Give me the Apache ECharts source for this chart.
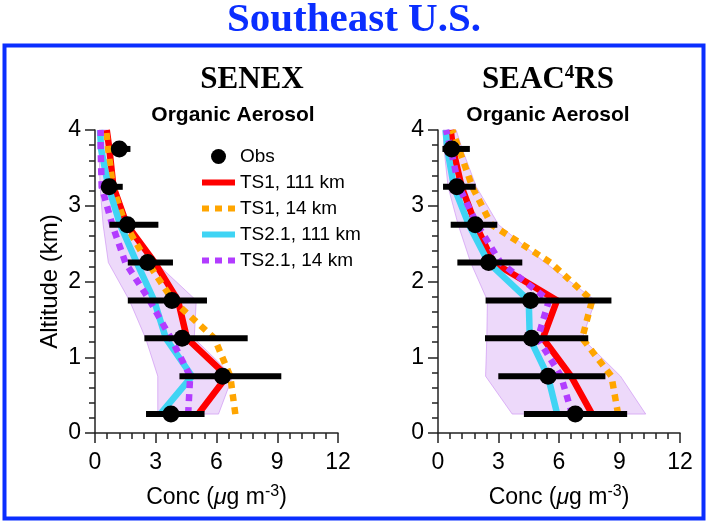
<!DOCTYPE html>
<html><head><meta charset="utf-8">
<script src="https://cdn.jsdelivr.net/npm/echarts@6/dist/echarts.min.js"></script>
<style>html,body{margin:0;padding:0;background:#fff}#c{width:709px;height:523px}</style>
</head><body><div id="c"></div>
<script>
// Altitude levels (km)
const obsLevels = [0.25, 0.75, 1.25, 1.75, 2.25, 2.75, 3.25, 3.75];
const lineLevels = [0.25, 0.75, 1.25, 1.75, 2.25, 2.75, 3.25, 3.75, 4.0];
const xTicks = [0, 3, 6, 9, 12];
const yTicks = [0, 1, 2, 3, 4];
const seriesNames = ['Obs', 'TS1, 111 km', 'TS1, 14 km', 'TS2.1, 111 km', 'TS2.1, 14 km'];

// SENEX
const senexObs   = [3.75, 6.3, 4.3, 3.8, 2.6, 1.6, 0.7, 1.2];
const senexObsLo = [2.52, 4.17, 2.44, 1.62, 1.62, 0.71, 0.5, 0.85];
const senexObsHi = [5.41, 9.2, 7.54, 5.53, 3.85, 3.13, 1.37, 1.75];
const senexTS1_111 = [5.1, 6.52, 4.54, 4.1, 2.95, 1.57, 0.91, 0.71, 0.58];
const senexTS1_14  = [6.93, 6.68, 5.9, 3.85, 2.6, 1.5, 0.88, 0.65, 0.55];
const senexTS2_111 = [3.22, 4.79, 3.5, 2.92, 2.06, 1.24, 0.66, 0.3, 0.25];
const senexTS2_14  = [4.6, 4.7, 3.75, 2.7, 1.5, 0.85, 0.33, 0.28, 0.28];
const senexRangeLo = [3.1, 3.1, 2.5, 1.7, 0.66, 0.4, 0.25, 0.2, 0.2];
const senexRangeHi = [6.1, 6.8, 4.9, 5.0, 3.0, 1.6, 0.95, 0.7, 0.6];

// SEAC4RS
const seacObs   = [6.81, 5.46, 4.64, 4.59, 2.51, 1.85, 0.93, 0.68];
const seacObsLo = [4.26, 2.99, 2.33, 2.36, 0.96, 0.63, 0.25, 0.22];
const seacObsHi = [9.38, 8.3, 7.45, 8.6, 4.18, 2.94, 1.87, 1.58];
const seacTS1_111 = [7.64, 6.6, 5.2, 5.9, 2.75, 1.87, 1.17, 0.74, 0.63];
const seacTS1_14  = [8.93, 8.6, 7.15, 7.64, 5.58, 2.65, 1.7, 1.04, 0.71];
const seacTS2_111 = [5.91, 5.45, 4.55, 4.5, 2.5, 1.53, 0.79, 0.46, 0.38];
const seacTS2_14  = [6.65, 6.1, 4.95, 5.5, 3.1, 1.95, 1.04, 0.63, 0.4];
const seacRangeLo = [3.68, 2.36, 2.42, 2.45, 1.62, 1.0, 0.5, 0.3, 0.25];
const seacRangeHi = [10.3, 9.05, 7.15, 7.8, 5.3, 3.0, 1.9, 1.2, 0.9];

const SANS = '"Liberation Sans", Arial, Helvetica, sans-serif';
const SERIF = '"Liberation Serif", "Times New Roman", serif';
const BLUE = '#0a2eff';
const colors = { red: '#ff0000', orange: '#ffa500', cyan: '#3fd4f4', purple: '#b23cff' };

const chart = echarts.init(document.getElementById('c'), null, { renderer: 'canvas' });

function pairs(vals, alts) { return vals.map((v, i) => [v, alts[i]]); }

function panelSeries(g, d) {
  const out = [];
  // model range band
  out.push({
    type: 'custom', xAxisIndex: g, yAxisIndex: g, z: 1, silent: true,
    data: d.lo.map((v, i) => [v, d.hi[i], lineLevels[i]]),
    encode: { x: [0, 1], y: 2 },
    renderItem: function (params, api) {
      if (params.dataIndex !== 0) return;
      const pts = [];
      for (let i = 0; i < d.lo.length; i++) pts.push(api.coord([d.lo[i], lineLevels[i]]));
      for (let i = d.hi.length - 1; i >= 0; i--) pts.push(api.coord([d.hi[i], lineLevels[i]]));
      return { type: 'polygon', shape: { points: pts },
        style: { fill: 'rgba(196,130,240,0.30)', stroke: 'rgba(196,130,240,0.55)', lineWidth: 1 } };
    }
  });
  const lines = [
    [seriesNames[1], d.ts1_111, colors.red, 'solid'],
    [seriesNames[2], d.ts1_14, colors.orange, [7, 6]],
    [seriesNames[3], d.ts2_111, colors.cyan, 'solid'],
    [seriesNames[4], d.ts2_14, colors.purple, [7, 6]]
  ];
  lines.forEach(l => {
    out.push({
      type: 'line', name: l[0], xAxisIndex: g, yAxisIndex: g, z: 3, silent: true,
      data: pairs(l[1], lineLevels), symbol: 'none',
      itemStyle: { color: l[2] },
      lineStyle: { color: l[2], width: 6.5, type: l[3], cap: 'butt', join: 'miter' }
    });
  });
  // error bars
  out.push({
    type: 'custom', xAxisIndex: g, yAxisIndex: g, z: 5, silent: true,
    data: d.obsLo.map((v, i) => [v, d.obsHi[i], obsLevels[i]]),
    encode: { x: [0, 1], y: 2 },
    renderItem: function (params, api) {
      const a = api.coord([api.value(0), api.value(2)]);
      const b = api.coord([api.value(1), api.value(2)]);
      return { type: 'line', shape: { x1: a[0], y1: a[1], x2: b[0], y2: b[1] },
        style: { stroke: '#000', lineWidth: 6 } };
    }
  });
  out.push({
    type: 'scatter', name: seriesNames[0], xAxisIndex: g, yAxisIndex: g, z: 6, silent: true,
    data: pairs(d.obs, obsLevels), symbol: 'circle', symbolSize: 17,
    itemStyle: { color: '#000', opacity: 1 }
  });
  return out;
}

const axisCommon = {
  axisLine: { show: true, onZero: false, lineStyle: { color: '#222', width: 1.5 } },
  axisTick: { show: true, length: 10, lineStyle: { color: '#222', width: 1.5 } },
  minorTick: { show: true, splitNumber: 5, length: 6, lineStyle: { color: '#222', width: 1.5 } },
  splitLine: { show: false }
};

function xAxis(g) {
  return Object.assign({}, axisCommon, {
    type: 'value', gridIndex: g, min: xTicks[0], max: xTicks[xTicks.length - 1], interval: 3,
    axisLabel: { fontSize: 23, color: '#000', margin: 18, fontFamily: SANS },
    name: '{a|Conc (}{mu|μ}{a|g m}{s|-3}{a|)}', nameLocation: 'middle', nameGap: 51,
    nameTextStyle: {
      rich: {
        a: { fontSize: 23, fontFamily: SANS, color: '#000', lineHeight: 28 },
        mu: { fontSize: 23, fontFamily: SANS, fontStyle: 'italic', color: '#000', lineHeight: 28 },
        s: { fontSize: 16, fontFamily: SANS, color: '#000', lineHeight: 16, verticalAlign: 'top' }
      }
    }
  });
}
function yAxis(g, withName) {
  const o = Object.assign({}, axisCommon, {
    type: 'value', gridIndex: g, min: yTicks[0], max: yTicks[yTicks.length - 1], interval: 1,
    axisLabel: { fontSize: 23, color: '#000', margin: 14, fontFamily: SANS }
  });
  if (withName) {
    o.name = 'Altitude (km)'; o.nameLocation = 'middle'; o.nameRotate = 90; o.nameGap = 33;
    o.nameTextStyle = { fontSize: 24, fontFamily: SANS, color: '#000' };
  }
  return o;
}

const senex = { obs: senexObs, obsLo: senexObsLo, obsHi: senexObsHi, ts1_111: senexTS1_111, ts1_14: senexTS1_14,
  ts2_111: senexTS2_111, ts2_14: senexTS2_14, lo: senexRangeLo, hi: senexRangeHi };
const seac = { obs: seacObs, obsLo: seacObsLo, obsHi: seacObsHi, ts1_111: seacTS1_111, ts1_14: seacTS1_14,
  ts2_111: seacTS2_111, ts2_14: seacTS2_14, lo: seacRangeLo, hi: seacRangeHi };

const solidIcon = 'path://M0,0h33v6h-33z';
const dotIcon = 'path://M0,0h7v6h-7zM13,0h7v6h-7zM26,0h7v6h-7z';

chart.setOption({
  animation: false,
  backgroundColor: '#fff',
  grid: [
    { left: 95, top: 130, width: 243, height: 303 },
    { left: 438, top: 130, width: 242, height: 303 }
  ],
  xAxis: [xAxis(0), xAxis(1)],
  yAxis: [yAxis(0, true), yAxis(1, false)],
  legend: {
    left: 197, top: 141, orient: 'vertical', itemWidth: 33, itemHeight: 15, itemGap: 5,
    symbolKeepAspect: true, selectedMode: false,
    textStyle: { fontSize: 19, fontFamily: SANS, color: '#000', lineHeight: 21 },
    itemTextGap: 8,
    data: [
      { name: seriesNames[0], icon: 'circle', itemStyle: { color: '#000', opacity: 1 } },
      { name: seriesNames[1], icon: solidIcon },
      { name: seriesNames[2], icon: dotIcon },
      { name: seriesNames[3], icon: solidIcon },
      { name: seriesNames[4], icon: dotIcon }
    ]
  },
  graphic: [
    { type: 'rect', shape: { x: 4.5, y: 45.5, width: 699, height: 473 }, silent: true,
      style: { fill: 'none', stroke: BLUE, lineWidth: 4 } },
    { type: 'text', x: 354, y: 20, silent: true,
      style: { text: 'Southeast U.S.', fontSize: 41, fontWeight: 'bold', fontFamily: SERIF, fill: BLUE,
        textAlign: 'center', textVerticalAlign: 'middle' } },
    { type: 'text', x: 252, y: 80, silent: true,
      style: { text: 'SENEX', fontSize: 31, fontWeight: 'bold', fontFamily: SERIF, fill: '#000',
        textAlign: 'center', textVerticalAlign: 'middle' } },
    { type: 'text', x: 548, y: 80, silent: true,
      style: { text: '{a|SEAC}{s|4}{a|RS}', textAlign: 'center', textVerticalAlign: 'middle',
        rich: { a: { fontSize: 31, fontWeight: 'bold', fontFamily: SERIF, fill: '#000', lineHeight: 32 },
                s: { fontSize: 19, fontWeight: 'bold', fontFamily: SERIF, fill: '#000', lineHeight: 20, verticalAlign: 'top' } } } },
    { type: 'text', x: 233, y: 115, silent: true,
      style: { text: 'Organic Aerosol', fontSize: 21, fontWeight: 'bold', fontFamily: SANS, fill: '#000',
        textAlign: 'center', textVerticalAlign: 'middle' } },
    { type: 'text', x: 548, y: 115, silent: true,
      style: { text: 'Organic Aerosol', fontSize: 21, fontWeight: 'bold', fontFamily: SANS, fill: '#000',
        textAlign: 'center', textVerticalAlign: 'middle' } }
  ],
  series: panelSeries(0, senex).concat(panelSeries(1, seac))
});
</script></body></html>
